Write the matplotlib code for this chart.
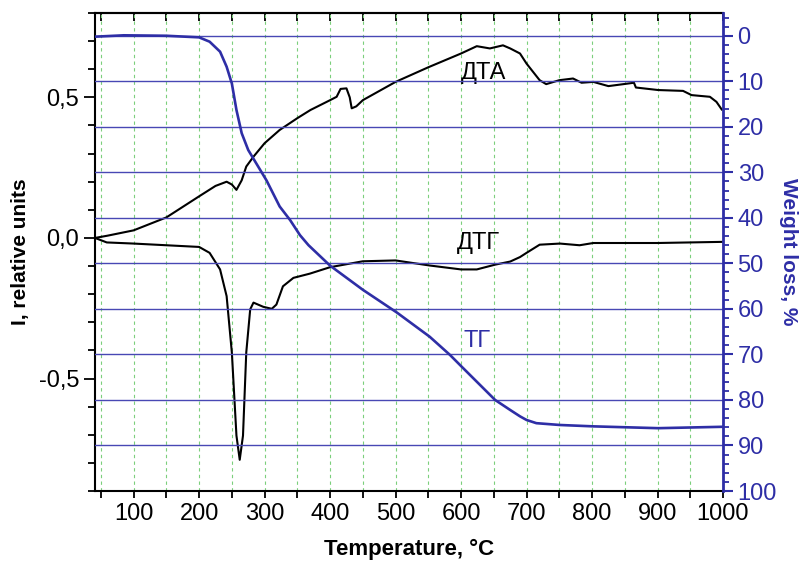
import matplotlib
matplotlib.use('Agg')
import matplotlib.pyplot as plt
from matplotlib.ticker import MultipleLocator
import numpy as np

plt.rcParams['font.family'] = ['Liberation Sans', 'DejaVu Sans']

# DTA curve (left axis)
dta_t = [41, 60, 100, 150, 200, 225, 242, 250, 257, 265, 272, 283, 300, 323,
         350, 370, 400, 410, 416, 425, 430, 433, 440, 450, 500, 550, 600, 624,
         644, 664, 675, 690, 700, 720, 730, 750, 771, 784, 802, 825, 848, 864,
         867, 901, 939, 952, 980, 990, 998]
dta_v = [0.0, 0.008, 0.027, 0.073, 0.148, 0.185, 0.200, 0.190, 0.171, 0.205,
         0.254, 0.289, 0.337, 0.384, 0.426, 0.455, 0.490, 0.502, 0.530, 0.532,
         0.500, 0.461, 0.468, 0.490, 0.555, 0.607, 0.656, 0.682, 0.674, 0.685,
         0.674, 0.656, 0.620, 0.561, 0.547, 0.561, 0.567, 0.552, 0.555, 0.540,
         0.547, 0.552, 0.535, 0.526, 0.523, 0.508, 0.502, 0.484, 0.457]

# DTG curve (left axis)
dtg_t = [41, 59, 100, 150, 200, 216, 232, 242, 250, 257, 262, 267, 272, 278,
         283, 298, 311, 318, 328, 344, 369, 400, 450, 500, 552, 600, 624, 652,
         675, 690, 700, 720, 751, 781, 802, 900, 998]
dtg_v = [0.0, -0.016, -0.020, -0.026, -0.032, -0.053, -0.112, -0.207, -0.408,
         -0.703, -0.789, -0.703, -0.407, -0.254, -0.230, -0.245, -0.252, -0.237,
         -0.172, -0.142, -0.127, -0.104, -0.083, -0.080, -0.098, -0.112, -0.112,
         -0.095, -0.084, -0.068, -0.053, -0.024, -0.020, -0.026, -0.018, -0.018,
         -0.014]

# TG curve (right axis, weight loss %)
tg_t = [41, 85, 150, 200, 216, 232, 242, 250, 257, 265, 275, 303, 323, 339,
        354, 367, 400, 450, 502, 552, 583, 601, 652, 675, 690, 700, 715, 751,
        802, 901, 998]
tg_v = [0.2, -0.1, 0.0, 0.35, 1.3, 3.5, 6.8, 10.5, 16.3, 21.4, 25.1, 31.8,
        37.5, 40.5, 43.8, 46.0, 50.5, 55.8, 60.8, 66.1, 70.1, 72.7, 80.0, 82.2,
        83.6, 84.4, 85.1, 85.5, 85.8, 86.2, 85.9]

blue = '#2e2ea6'
grid_blue = '#4848b4'
green = '#7ccf7c'

fig = plt.figure(figsize=(8.03, 5.65), dpi=100)
ax = fig.add_axes([95 / 803, 1 - 491 / 565, 628 / 803, 478 / 565])
ax2 = ax.twinx()

ax.set_xlim(41, 1000)
ax.set_ylim(-0.9, 0.8)
ax2.set_ylim(100, -5)

# grids
ax.xaxis.set_minor_locator(MultipleLocator(50))
ax.set_xticks(np.arange(100, 1001, 100))
ax.grid(True, axis='x', which='both', color=green, ls=(0, (3, 3)), lw=0.8)
ax2.set_yticks(np.arange(0, 101, 10))
ax2.yaxis.set_minor_locator(MultipleLocator(2))
for v in range(0, 100, 10):
    ax2.axhline(v, color=grid_blue, lw=1.0, zorder=0)

ax.plot(dta_t, dta_v, color='black', lw=1.5)
ax.plot(dtg_t, dtg_v, color='black', lw=1.5)
ax2.plot(tg_t, tg_v, color=blue, lw=1.9)

# left axis
ax.set_yticks([-0.5, 0.0, 0.5], ['-0,5', '0,0', '0,5'])
ax.yaxis.set_minor_locator(MultipleLocator(0.1))
ax.tick_params(axis='y', which='major', direction='out', length=8, width=1.3,
               labelsize=17)
ax.tick_params(axis='y', which='minor', direction='out', length=5, width=1.3)
ax.tick_params(axis='x', which='both', direction='out', length=5, width=1.3,
               labelsize=17)

sec = ax.secondary_xaxis('top')
sec.set_xticks(np.arange(50, 1001, 50))
sec.tick_params(direction='in', length=6, width=1.3, labeltop=False)
sec.spines['top'].set_linewidth(1.5)

for s in ['left', 'bottom', 'top']:
    ax.spines[s].set_linewidth(1.5)
ax.spines['right'].set_visible(False)
ax2.spines['left'].set_visible(False)
ax2.spines['top'].set_visible(False)
ax2.spines['bottom'].set_visible(False)
ax2.spines['right'].set_color(blue)
ax2.spines['right'].set_linewidth(2.0)

ax2.tick_params(axis='y', which='major', direction='out', length=7, width=1.5,
                colors=blue, labelsize=17)
ax2.tick_params(axis='y', which='minor', direction='out', length=4, width=1.3,
                colors=blue)

ax.set_xlabel('Temperature, °C', fontsize=16, fontweight='bold', labelpad=10)
ax.set_ylabel('I, relative units', fontsize=15, fontweight='bold', labelpad=6)
ax2.set_ylabel('Weight loss, %', fontsize=15, fontweight='bold', color=blue,
               rotation=-90, labelpad=15)

ax.text(634, 0.586, 'ДТА', fontsize=17, ha='center', va='center')
ax.text(627, -0.017, 'ДТГ', fontsize=17, ha='center', va='center')
ax.text(624, -0.367, 'ТГ', fontsize=17, ha='center', va='center', color=blue)

fig.savefig('out.png', dpi=100)
plt.close(fig)
